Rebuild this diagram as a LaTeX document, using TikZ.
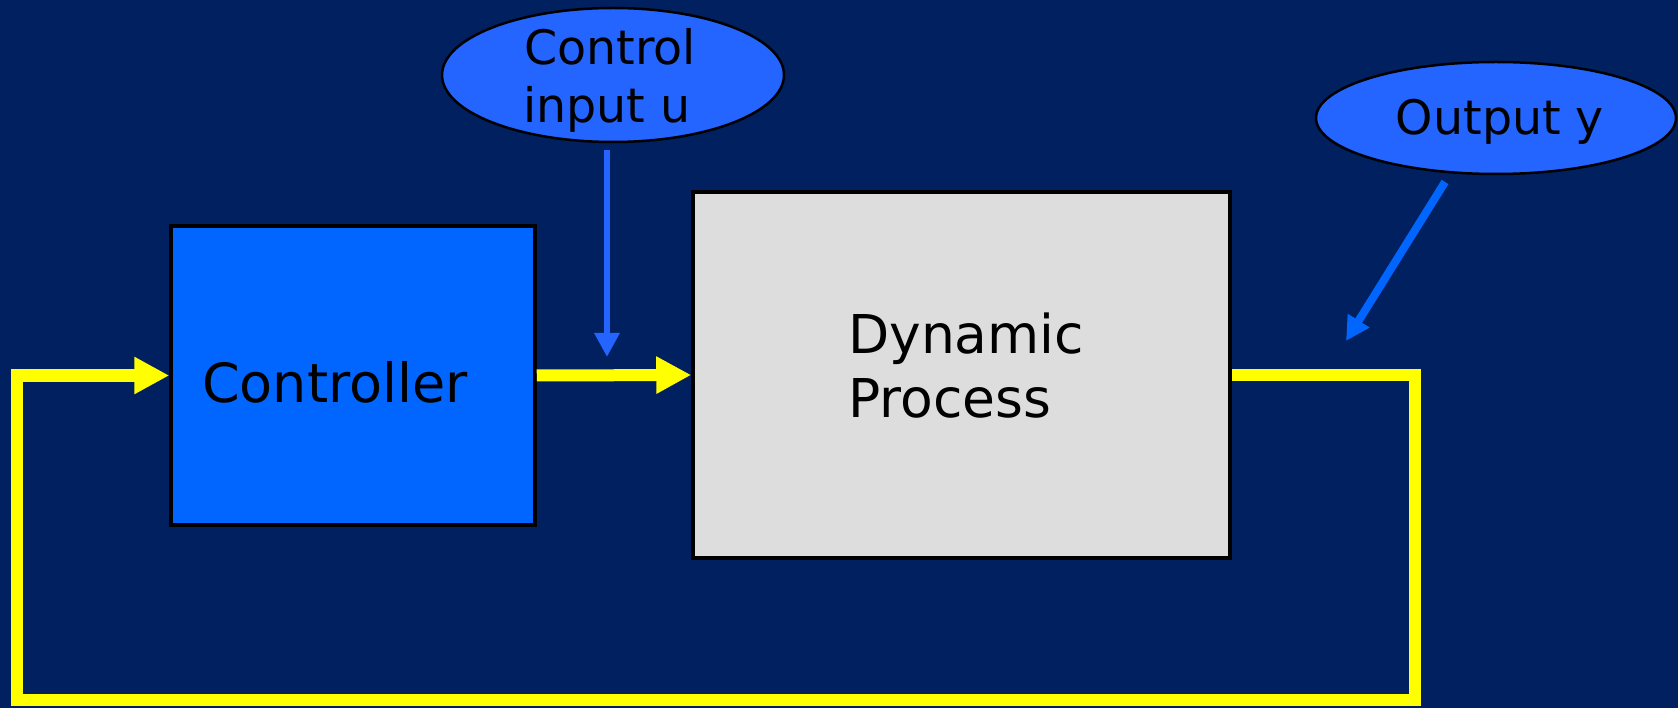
\documentclass[tikz,border=0pt]{standalone}
\usepackage{fontspec}
\setmainfont{DejaVu Sans}
\usetikzlibrary{shapes.geometric,arrows.meta}
\definecolor{navy}{RGB}{0,32,96}
\definecolor{ctrlblue}{RGB}{0,102,255}
\definecolor{bubble}{RGB}{36,100,255}
\definecolor{procgrey}{RGB}{221,221,221}
\definecolor{signal}{RGB}{255,255,0}
\tikzset{
  blockbox/.style={draw=black, line width=3.5pt, inner sep=0pt},
  bubblenode/.style={ellipse, draw=black, line width=2.5pt, fill=bubble, inner sep=0pt},
  flow/.style={draw=signal, line width=12pt, line join=miter, -{Triangle[length=35pt,width=35pt]}},
  pointer/.style={-{Triangle[length=24pt,width=24pt]}},
  label/.style={inner sep=0pt, anchor=base west},
  bubbletext/.style={inner sep=0pt, anchor=base, font=\fontsize{47.5}{58}\selectfont}
}
\begin{document}
\begin{tikzpicture}[x=1pt,y=-1pt]
  \fill[navy] (0,0) rectangle (1678,708);
  \useasboundingbox (0,0) rectangle (1678,708);

  % blocks
  \node[blockbox, fill=ctrlblue, minimum width=364pt, minimum height=299pt] (ctrl) at (353,375.5) {};
  \node[blockbox, fill=procgrey, minimum width=537pt, minimum height=366pt] (proc) at (961.5,375) {};
  \node[label, font=\fontsize{54}{64}\selectfont] (ctrltxt) at (202,402) {Controller};
  \node[label, font=\fontsize{53.5}{64}\selectfont] (proctxt1) at (848,354) {Dynamic};
  \node[label, font=\fontsize{53.5}{64}\selectfont] (proctxt2) at (848,417) {Process};

  % annotation bubbles
  \node[bubblenode, minimum width=342pt, minimum height=134pt] (cin) at (613,75) {};
  \node[bubbletext] (cintxt1) at (610,65) {Control};
  \node[bubbletext] (cintxt2) at (607,123) {input u};
  \node[bubblenode, minimum width=360pt, minimum height=112pt] (yout) at (1496,118) {};
  \node[bubbletext] (youttxt) at (1500,135) {Output y};

  % signal flow
  \draw[flow] (ctrl.east) -- (proc.west);
  \draw[flow] (proc.east) -- (1415,375) -- (1415,700) -- (16.5,700) -- (16.5,375.5) -- (ctrl.west);

  % pointers from the bubbles
  \coordinate (uStart) at (607,150);
  \coordinate (uEnd) at (607,357);
  \draw[pointer, draw=bubble, fill=bubble, line width=6pt] (uStart) -- (uEnd);
  \coordinate (yStart) at (1445,182);
  \coordinate (yEnd) at (1346,341);
  \draw[pointer, draw=ctrlblue, fill=ctrlblue, line width=8pt] (yStart) -- (yEnd);
\end{tikzpicture}
\end{document}
